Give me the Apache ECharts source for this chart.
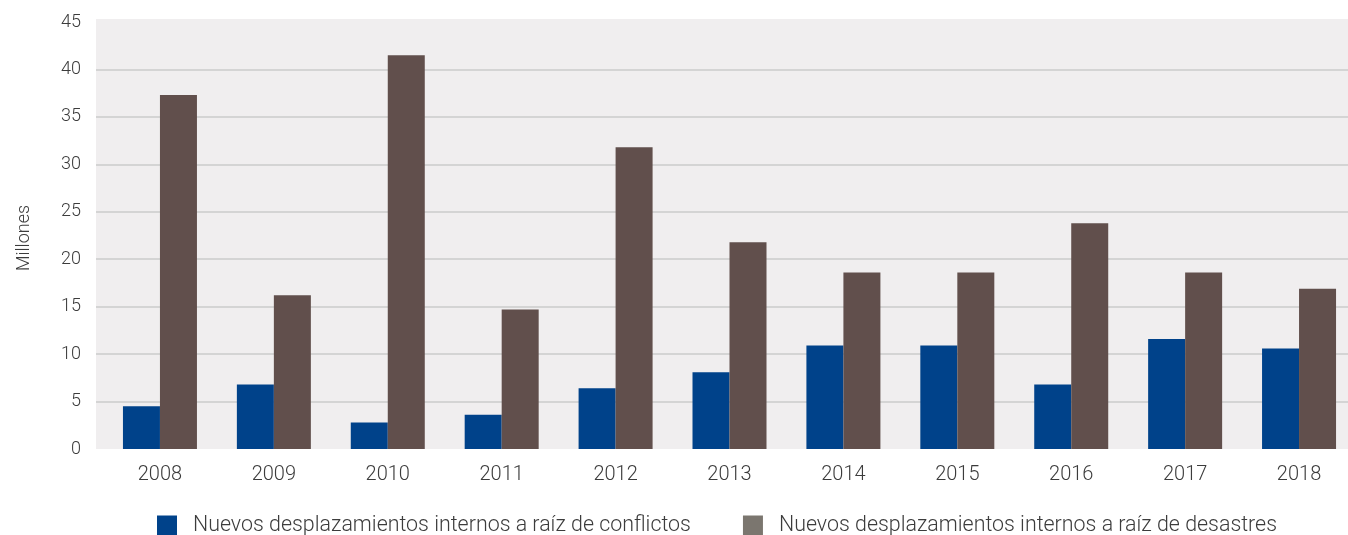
<!DOCTYPE html>
<html>
<head>
<meta charset="utf-8">
<script src="https://cdn.jsdelivr.net/npm/echarts@6/dist/echarts.min.js"></script>
<style>html,body{margin:0;padding:0;background:#fff;overflow:hidden;}#c{width:1356px;height:535px;}</style>
</head>
<body>
<div id="c"></div>
<script>
const years = ['2008','2009','2010','2011','2012','2013','2014','2015','2016','2017','2018'];
const conflictos = [4.5, 6.8, 2.8, 3.6, 6.4, 8.1, 10.9, 10.9, 6.8, 11.6, 10.6];
const desastres = [37.3, 16.2, 41.5, 14.7, 31.8, 21.8, 18.6, 18.6, 23.8, 18.6, 16.9];
const seriesNames = ['Nuevos desplazamientos internos a raíz de conflictos', 'Nuevos desplazamientos internos a raíz de desastres'];
const yTicks = {min: 0, max: 45, interval: 5};

const FONT = 'Roboto';
const TXT = '#3c3c3c';
const chart = echarts.init(document.getElementById('c'));
const gridColors = ['rgba(0,0,0,0)','#cbcbcb','#cbcbcb','#cbcbcb','#cbcbcb','#cbcbcb','#cbcbcb','#cbcbcb','#cbcbcb','rgba(0,0,0,0)'];
chart.setOption({
  animation: false,
  textStyle: {fontFamily: FONT},
  graphic: [
    {type: 'rect', z: -10, shape: {x: 96, y: 19, width: 1252, height: 430}, style: {fill: '#f0eeef'}},
    {type: 'text', x: 24, y: 238, rotation: Math.PI / 2,
     style: {text: 'Millones', fill: TXT, font: '300 18px Roboto', align: 'center', verticalAlign: 'middle'}}
  ],
  grid: [
    {left: 96, right: 8, top: 22, bottom: 86},
    {left: 103, right: 0, top: 22, bottom: 86}
  ],
  xAxis: [
    {gridIndex: 0, type: 'category', data: years, show: false},
    {gridIndex: 1, type: 'category', data: years,
     axisLine: {show: false}, axisTick: {show: false},
     axisLabel: {color: TXT, fontSize: 20, fontWeight: 300, fontFamily: FONT, margin: 16}}
  ],
  yAxis: [
    {gridIndex: 0, type: 'value', min: yTicks.min, max: yTicks.max, interval: yTicks.interval,
     axisLine: {show: false}, axisTick: {show: false},
     axisLabel: {color: TXT, fontSize: 18, fontWeight: 300, fontFamily: FONT, margin: 15},
     splitLine: {show: true, lineStyle: {color: gridColors, width: 1.5}}},
    {gridIndex: 1, type: 'value', min: yTicks.min, max: yTicks.max, interval: yTicks.interval, show: false, splitLine: {show: false}}
  ],
  legend: {
    left: 157, top: 515, padding: 0, itemWidth: 20, itemHeight: 20, itemGap: 52,
    icon: 'rect',
    textStyle: {color: TXT, fontSize: 21.4, fontWeight: 300, fontFamily: FONT, padding: [0, 0, 0, 11]},
    data: [
      {name: seriesNames[0], itemStyle: {color: '#00428a'}},
      {name: seriesNames[1], itemStyle: {color: '#7b766f'}}
    ]
  },
  series: [
    {name: seriesNames[0], type: 'bar', xAxisIndex: 1, yAxisIndex: 1, data: conflictos,
     barWidth: 37, barGap: '0%', itemStyle: {color: '#00428a'}},
    {name: seriesNames[1], type: 'bar', xAxisIndex: 1, yAxisIndex: 1, data: desastres,
     barWidth: 37, barGap: '0%', itemStyle: {color: '#614f4c'}}
  ]
});
</script>
</body>
</html>
